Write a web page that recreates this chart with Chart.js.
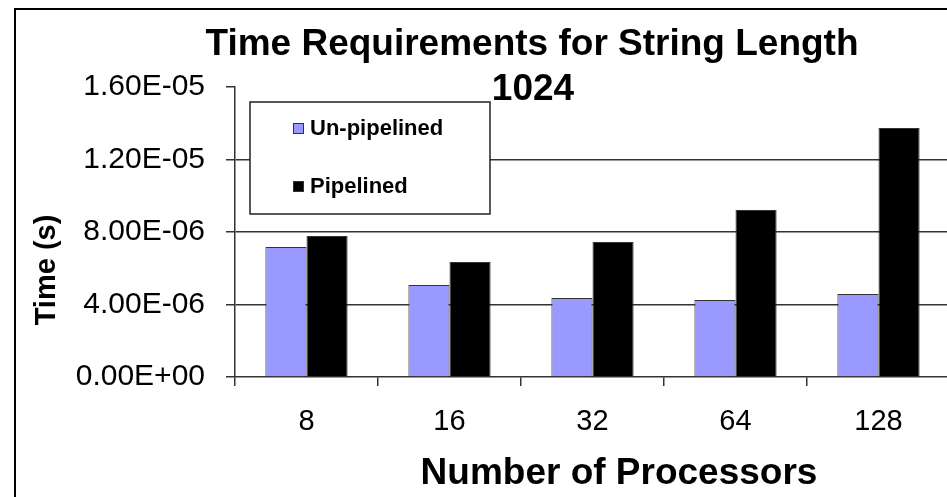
<!DOCTYPE html>
<html>
<head>
<meta charset="utf-8">
<title>Time Requirements for String Length 1024</title>
<script src="https://cdn.jsdelivr.net/npm/chart.js@4"></script>
<style>
  html, body { margin: 0; padding: 0; background: #fff; overflow: hidden; }
  #frame { position: absolute; left: 14px; top: 8px; width: 1000px; height: 600px; border: 2px solid #000; }
  #wrap { position: absolute; left: 0; top: 0; width: 980px; height: 520px; }
</style>
</head>
<body>
<div id="frame"></div>
<div id="wrap"><canvas id="timeChart"></canvas></div>
<script>
/* ------------- data ------------- */
const processors   = ["8", "16", "32", "64", "128"];
const unpipelined  = [7.17e-6, 5.08e-6, 4.36e-6, 4.25e-6, 4.58e-6];
const pipelined    = [7.78e-6, 6.34e-6, 7.45e-6, 9.21e-6, 1.374e-5];
const seriesNames  = ["Un-pipelined", "Pipelined"];
const titleLines   = ["Time Requirements for String Length", "1024"];
const yTitle       = "Time (s)";
const xTitle       = "Number of Processors";

const FONT = "'Liberation Sans', Arial, sans-serif";

// 1.6e-5 -> "1.60E-05"
function sci(v){
  if (Math.abs(v) < 1e-12) return "0.00E+00";
  const [m, e] = v.toExponential(2).split("e");
  const n = parseInt(e, 10);
  return m + "E" + (n < 0 ? "-" : "+") + String(Math.abs(n)).padStart(2, "0");
}

/* ---------- titles + boxed legend ---------- */
const decorations = {
  id: "decorations",
  afterDraw(chart){
    const ctx = chart.ctx;
    ctx.save();
    ctx.fillStyle = "#000";
    ctx.textAlign = "center";
    ctx.textBaseline = "middle";

    ctx.font = `bold 37px ${FONT}`;
    ctx.fillText(titleLines[0], 532, 45);
    ctx.fillText(titleLines[1], 533, 90);

    ctx.font = `bold 37px ${FONT}`;
    ctx.fillText(xTitle, 619, 474);

    ctx.save();
    ctx.translate(47, 270);
    ctx.rotate(-Math.PI / 2);
    ctx.font = `bold 29px ${FONT}`;
    ctx.fillText(yTitle, 0, 0);
    ctx.restore();

    // legend box
    const bx = 250, by = 102, bw = 240, bh = 112;
    ctx.fillStyle = "#fff";
    ctx.fillRect(bx, by, bw, bh);
    ctx.strokeStyle = "#222";
    ctx.lineWidth = 1.5;
    ctx.strokeRect(bx, by, bw, bh);

    const rows = [128, 186];
    ctx.textAlign = "left";
    ctx.font = `bold 22px ${FONT}`;
    chart.data.datasets.forEach((ds, i) => {
      const cy = rows[i];
      ctx.fillStyle = ds.backgroundColor;
      ctx.fillRect(293, cy - 5, 10, 10);
      ctx.strokeStyle = "#333";
      ctx.lineWidth = 1;
      ctx.strokeRect(293.5, cy - 4.5, 10, 10);
      ctx.fillStyle = "#000";
      ctx.fillText(ds.label, 310, cy + 1);
    });
    ctx.restore();
  }
};

new Chart(document.getElementById("timeChart"), {
  type: "bar",
  data: {
    labels: processors,
    datasets: [
      { label: seriesNames[0], data: unpipelined, backgroundColor: "#9999FF",
        borderColor: "#333", borderWidth: 1 },
      { label: seriesNames[1], data: pipelined, backgroundColor: "#000000",
        borderColor: "#333", borderWidth: 1 }
    ]
  },
  options: {
    responsive: true,
    maintainAspectRatio: false,
    animation: false,
    datasets: { bar: { categoryPercentage: 0.575, barPercentage: 1.0 } },
    layout: { padding: { left: 0, top: 87, right: 30, bottom: 0 } },
    plugins: {
      legend: { display: false },
      title: { display: false },
      tooltip: { enabled: false }
    },
    scales: {
      x: {
        afterFit: s => { s.height = 143; },
        grid: { drawOnChartArea: false, drawTicks: true, tickLength: 9,
                tickColor: "#333", lineWidth: 1.5, offset: true },
        border: { display: true, color: "#333", width: 1.5 },
        ticks: { color: "#000", padding: 19, font: { family: FONT, size: 29 } }
      },
      y: {
        min: 0,
        max: 1.6e-5,
        afterFit: s => { s.width = 235; },
        grid: {
          color: c => {
            const v = c.tick ? c.tick.value : 0;
            return (v < 1e-9 || v > 1.55e-5) ? "rgba(0,0,0,0)" : "#333";
          },
          lineWidth: 1.5,
          tickLength: 9,
          tickColor: "#333"
        },
        border: { display: true, color: "#333", width: 1.5 },
        ticks: {
          stepSize: 4e-6,
          color: "#000",
          padding: 21,
          font: { family: FONT, size: 30 },
          callback: v => sci(v)
        }
      }
    }
  },
  plugins: [decorations]
});
</script>
</body>
</html>
